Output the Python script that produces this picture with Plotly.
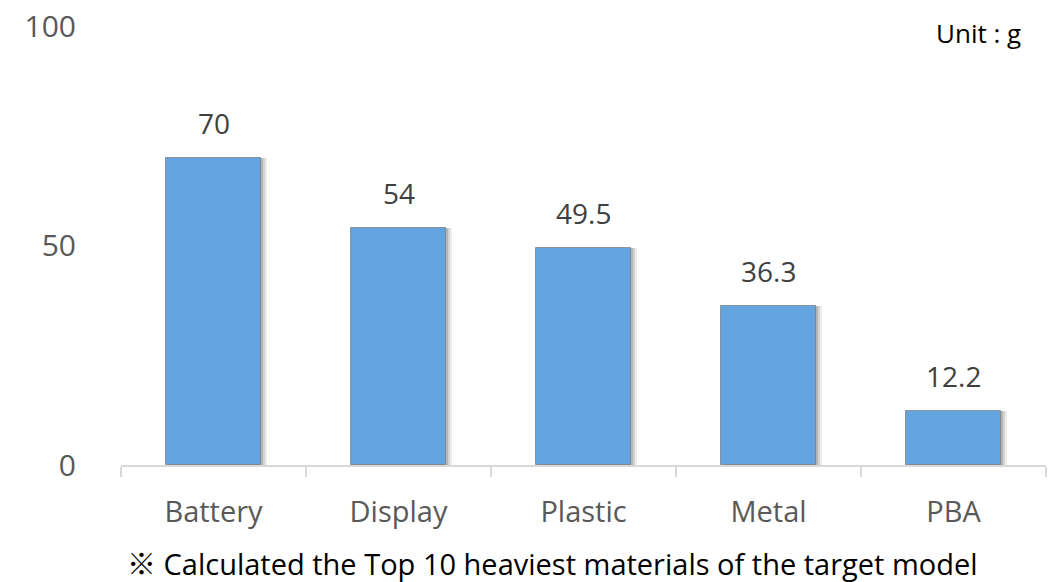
import plotly.graph_objects as go

categories = ["Battery", "Display", "Plastic", "Metal", "PBA"]
values = [70, 54, 49.5, 36.3, 12.2]
value_labels = ["70", "54", "49.5", "36.3", "12.2"]
y_ticks = [0, 50, 100]

FONT = "Open Sans, Noto Sans CJK KR, sans-serif"
BAR_W = 0.51

fig = go.Figure()

# soft shadow layers
for dx, alpha in [(0.035, 0.07), (0.022, 0.10), (0.010, 0.14)]:
    fig.add_trace(go.Bar(
        x=categories, y=values, width=BAR_W, offset=-BAR_W / 2 + dx,
        marker=dict(color=f"rgba(0,0,0,{alpha})", line=dict(width=0)),
        hoverinfo="skip", showlegend=False,
    ))

fig.add_trace(go.Bar(
    x=categories, y=values, width=BAR_W, offset=-BAR_W / 2,
    marker=dict(color="#64A5E1", line=dict(color="rgba(120,120,120,0.7)", width=1)),
    showlegend=False,
))

for c, v, t in zip(categories, values, value_labels):
    fig.add_annotation(x=c, y=v, text=t, showarrow=False, yanchor="bottom",
                       yshift=14, font=dict(family=FONT, size=28, color="#404040"))

fig.add_annotation(xref="paper", yref="paper", x=1.0, y=1.0, xanchor="right", yanchor="middle",
                   text="Unit : g", showarrow=False, yshift=-7, xshift=-23,
                   font=dict(family=FONT, size=26, color="#000000"))
fig.add_annotation(xref="paper", yref="paper", x=0.466, y=0, xanchor="center", yanchor="middle",
                   text="※ Calculated the Top 10 heaviest materials of the target model",
                   showarrow=False, yshift=-98,
                   font=dict(family=FONT, size=29, color="#000000"))

fig.update_layout(
    width=1061, height=582,
    margin=dict(l=113, r=23, t=18, b=125, autoexpand=False),
    plot_bgcolor="white", paper_bgcolor="white",
    barmode="overlay", bargap=0,
    font=dict(family=FONT, color="#595959"),
    xaxis=dict(
        type="category", range=[-0.5, 4.5], automargin=False,
        showline=True, linecolor="#D9D9D9", linewidth=1.5,
        ticks="outside", tickson="boundaries", ticklen=10, tickcolor="#D9D9D9", tickwidth=1.5,
        ticklabelstandoff=20,
        tickfont=dict(family=FONT, size=29, color="#595959"),
        showgrid=False, zeroline=False,
    ),
    yaxis=dict(
        range=[0, 100], tickvals=y_ticks, ticktext=[str(v) for v in y_ticks],
        automargin=False,
        showgrid=False, zeroline=False, showline=False, ticks="",
        ticklabelstandoff=44, ticklabeloverflow="allow",
        tickfont=dict(family=FONT, size=30, color="#595959"),
    ),
)

fig.write_html("out.html")
